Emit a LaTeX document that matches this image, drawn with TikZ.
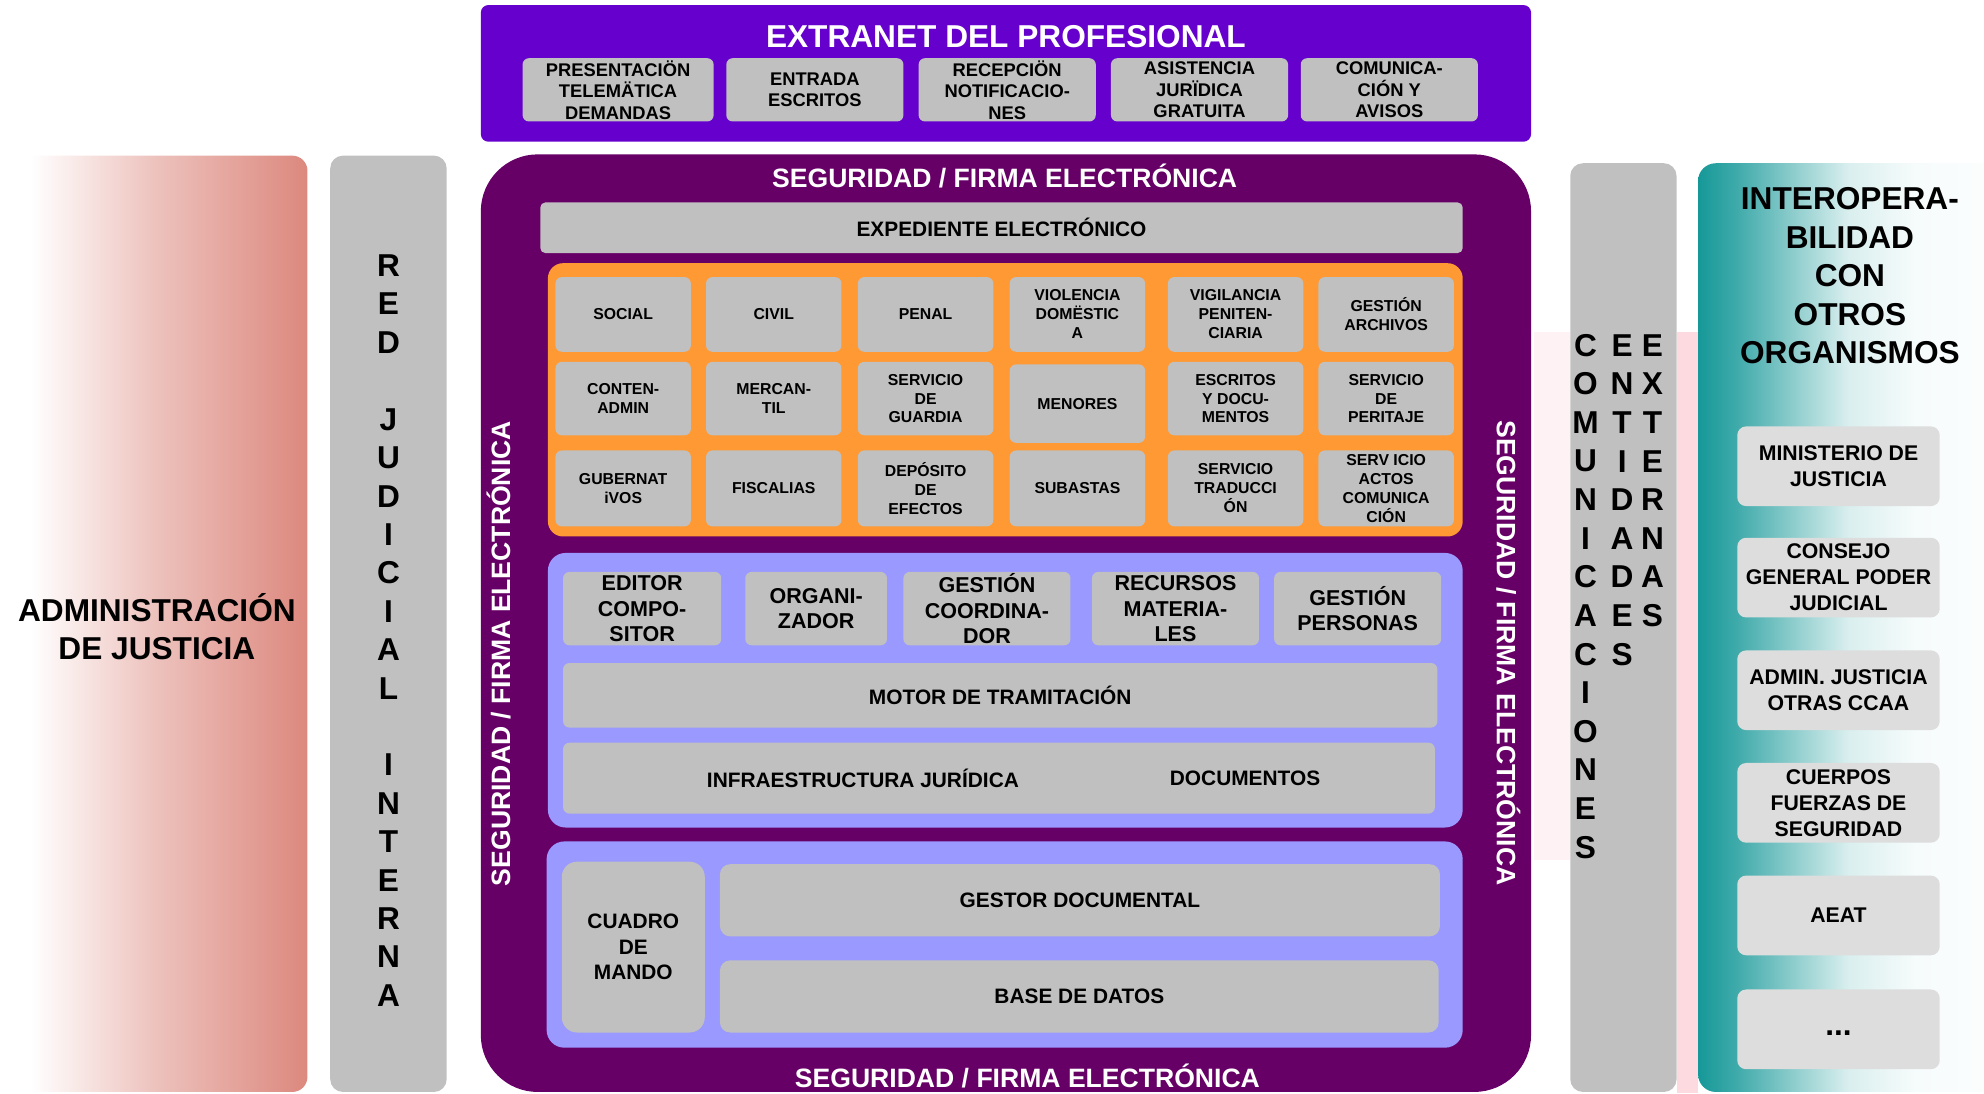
\documentclass[tikz,border=0pt]{standalone}
\usepackage{fontspec}
\setmainfont{Liberation Sans}

\definecolor{extranet}{HTML}{6600CC}
\definecolor{morado}{HTML}{660066}
\definecolor{gris}{HTML}{C0C0C0}
\definecolor{grisclaro}{HTML}{DDDDDD}
\definecolor{naranja}{HTML}{FF9933}
\definecolor{lila}{HTML}{9999FF}
\definecolor{salmon}{RGB}{220,136,126}
\definecolor{turquesa}{RGB}{22,152,152}
\definecolor{rosa}{RGB}{252,218,224}
\colorlet{salmonmed}{salmon!52!white}
\colorlet{turq1}{turquesa!82!white}
\colorlet{turq2}{turquesa!16!white}
\colorlet{turq3}{turquesa!4!white}

\pgfdeclarehorizontalshading{adminsombra}{100bp}{color(0bp)=(white); color(25bp)=(white);
  color(29bp)=(white); color(50bp)=(salmonmed); color(75bp)=(salmon); color(100bp)=(salmon)}
\pgfdeclarehorizontalshading{interopsombra}{100bp}{color(0bp)=(turquesa); color(25bp)=(turquesa);
  color(31bp)=(turq1); color(48bp)=(turq2); color(58bp)=(turq3); color(75bp)=(white); color(100bp)=(white)}

\tikzset{
  fondo/.style={inner sep=0pt, outer sep=0pt},
  caja/.style={fill=gris, rounded corners=5pt, inner sep=0pt, align=center,
    font=\bfseries\fontsize{12.5}{15}\selectfont},
  cajaext/.style={caja, font=\bfseries\fontsize{14.5}{17}\selectfont},
  cajamed/.style={caja, font=\bfseries\fontsize{16.5}{20}\selectfont},
  cajaorg/.style={caja, fill=grisclaro, rounded corners=7pt,
    font=\bfseries\fontsize{16.8}{20.5}\selectfont},
  titulo/.style={text=white, inner sep=0pt, font=\bfseries\fontsize{21}{25}\selectfont},
  letra/.style={inner sep=0pt, font=\bfseries\fontsize{25}{30}\selectfont}
}

\begin{document}
\begin{tikzpicture}[x=1pt, y=-1pt]
\path[use as bounding box, clip] (0,0) rectangle (1568,864);

% fondo rosado
\fill[rosa] (1325,262) rectangle (1342,864);
\fill[rosa!35] (1212,262) rectangle (1241,680);

% extranet
\node[fondo, fill=extranet, rounded corners=6pt, minimum width=830, minimum height=108] (extranet) at (795,58) {};
\node[titulo, font=\bfseries\fontsize{25}{30}\selectfont] (tituloext) at (795,29) {EXTRANET DEL PROFESIONAL};
\node[cajaext, minimum width=151, minimum height=50] (presentacion) at (488.5,71) {PRESENTACIÖN\\TELEMÄTICA\\DEMANDAS};
\node[cajaext, minimum width=140, minimum height=50] (entrada) at (644,71) {ENTRADA\\ESCRITOS};
\node[cajaext, minimum width=140, minimum height=50] (recepcion) at (796,71) {RECEPCIÖN\\NOTIFICACIO-\\NES};
\node[cajaext, minimum width=140, minimum height=50] (asistencia) at (948,71) {ASISTENCIA\\JURÏDICA\\GRATUITA};
\node[cajaext, minimum width=140, minimum height=50] (comunicacion) at (1098,71) {COMUNICA-\\CIÓN Y\\AVISOS};

% administracion de justicia
\node[fondo, shading=adminsombra, rounded corners=12pt,
  minimum width=238, minimum height=740] (admin) at (124,493) {};
\node[letra, align=center, font=\bfseries\fontsize{25}{30}\selectfont] (admintxt) at (124,495.5) {ADMINISTRACIÓN\\DE JUSTICIA};

% red judicial interna
\node[fondo, fill=gris, rounded corners=10pt, minimum width=92, minimum height=740] (red) at (307,493) {};
\foreach \l/\i in {R/0,E/1,D/2,J/4,U/5,D/6,I/7,C/8,I/9,A/10,L/11,I/13,N/14,T/15,E/16,R/17,N/18,A/19}
  \node[letra] (red\i) at (307,{210+\i*30.35}) {\l};

% seguridad / firma electronica
\node[fondo, fill=morado, rounded corners=45pt, minimum width=830, minimum height=741] (seguridad) at (795,492.5) {};
\node[titulo] (segarriba) at (794,139) {SEGURIDAD / FIRMA ELECTRÓNICA};
\node[titulo] (segabajo) at (812,850) {SEGURIDAD / FIRMA ELECTRÓNICA};
\node[titulo, rotate=90] (segizq) at (394,516.5) {SEGURIDAD / FIRMA ELECTRÓNICA};
\node[titulo, rotate=-90] (segder) at (1192,516) {SEGURIDAD / FIRMA ELECTRÓNICA};

\node[cajamed, rounded corners=4pt, minimum width=729, minimum height=40] (expediente) at (791.5,180) {EXPEDIENTE ELECTRÓNICO};

% ordenes jurisdiccionales
\node[fondo, fill=naranja, rounded corners=12pt, minimum width=723, minimum height=216] (ordenes) at (794.5,316) {};
\node[caja, minimum width=107, minimum height=59] (social) at (492.5,248.5) {SOCIAL};
\node[caja, minimum width=107, minimum height=59] (civil) at (611.5,248.5) {CIVIL};
\node[caja, minimum width=107, minimum height=59] (penal) at (731.5,248.5) {PENAL};
\node[caja, minimum width=107, minimum height=59] (violencia) at (851.5,248.5) {VIOLENCIA\\DOMËSTIC\\A};
\node[caja, minimum width=107, minimum height=59] (vigilancia) at (976.5,248.5) {VIGILANCIA\\PENITEN-\\CIARIA};
\node[caja, minimum width=107, minimum height=59] (archivos) at (1095.5,248.5) {GESTIÓN\\ARCHIVOS};
\node[caja, minimum width=107, minimum height=58] (contencioso) at (492.5,315) {CONTEN-\\ADMIN};
\node[caja, minimum width=107, minimum height=58] (mercantil) at (611.5,315) {MERCAN-\\TIL};
\node[caja, minimum width=107, minimum height=58] (guardia) at (731.5,315) {SERVICIO\\DE\\GUARDIA};
\node[caja, minimum width=107, minimum height=62] (menores) at (851.5,319) {MENORES};
\node[caja, minimum width=107, minimum height=58] (escritos) at (976.5,315) {ESCRITOS\\Y DOCU-\\MENTOS};
\node[caja, minimum width=107, minimum height=58] (peritaje) at (1095.5,315) {SERVICIO\\DE\\PERITAJE};
\node[caja, minimum width=107, minimum height=60] (gubernativos) at (492.5,386) {GUBERNAT\\iVOS};
\node[caja, minimum width=107, minimum height=60] (fiscalias) at (611.5,386) {FISCALIAS};
\node[caja, minimum width=107, minimum height=60] (deposito) at (731.5,386) {DEPÓSITO\\DE\\EFECTOS};
\node[caja, minimum width=107, minimum height=60] (subastas) at (851.5,386) {SUBASTAS};
\node[caja, minimum width=107, minimum height=60] (traduccion) at (976.5,386) {SERVICIO\\TRADUCCI\\ÓN};
\node[caja, minimum width=107, minimum height=60] (actos) at (1095.5,386) {SERV ICIO\\ACTOS\\COMUNICA\\CIÓN};

% tramitacion
\node[fondo, fill=lila, rounded corners=14pt, minimum width=723, minimum height=217] (tramitacion) at (794.5,545.5) {};
\node[cajamed, font=\bfseries\fontsize{17}{20}\selectfont, minimum width=125, minimum height=58] (editor) at (507.5,481) {EDITOR\\COMPO-\\SITOR};
\node[cajamed, font=\bfseries\fontsize{17}{20}\selectfont, minimum width=112, minimum height=58] (organizador) at (645,481) {ORGANI-\\ZADOR};
\node[cajamed, font=\bfseries\fontsize{17}{20}\selectfont, minimum width=132, minimum height=58] (coordinador) at (780,481) {GESTIÓN\\COORDINA-\\DOR};
\node[cajamed, font=\bfseries\fontsize{17}{20}\selectfont, minimum width=132, minimum height=58] (recursos) at (929,481) {RECURSOS\\MATERIA-\\LES};
\node[cajamed, font=\bfseries\fontsize{17}{20}\selectfont, minimum width=132, minimum height=58] (personas) at (1073,481) {GESTIÓN\\PERSONAS};
\node[cajamed, minimum width=691, minimum height=51] (motor) at (790.5,549.5) {MOTOR DE TRAMITACIÓN};
\node[cajamed, minimum width=689, minimum height=56] (infra) at (789.5,615) {};
\node[cajamed, fill=none] (infratxt) at (682,615) {INFRAESTRUCTURA JURÍDICA};
\node[cajamed, fill=none] (documentos) at (984,615) {DOCUMENTOS};

% gestion documental
\node[fondo, fill=lila, rounded corners=14pt, minimum width=724, minimum height=163] (almacen) at (794,746.5) {};
\node[cajamed, rounded corners=12pt, minimum width=113, minimum height=135] (cuadro) at (500.5,748.5) {CUADRO\\DE\\MANDO};
\node[cajamed, rounded corners=8pt, minimum width=569, minimum height=57] (gestor) at (853.5,711.5) {GESTOR DOCUMENTAL};
\node[cajamed, rounded corners=8pt, minimum width=568, minimum height=57] (datos) at (853,787.5) {BASE DE DATOS};

% comunicaciones entidades externas
\node[fondo, fill=gris, rounded corners=10pt, minimum width=84, minimum height=734] (externas) at (1283,496) {};
\foreach \l [count=\i from 0] in {C,O,M,U,N,I,C,A,C,I,O,N,E,S}
  \node[letra] (com\i) at (1253,{273+\i*30.5}) {\l};
\foreach \l [count=\i from 0] in {E,N,T,I,D,A,D,E,S}
  \node[letra] (ent\i) at (1282,{273+\i*30.5}) {\l};
\foreach \l [count=\i from 0] in {E,X,T,E,R,N,A,S}
  \node[letra] (ext\i) at (1306,{273+\i*30.5}) {\l};

% interoperabilidad
\node[fondo, shading=interopsombra, rounded corners=14pt,
  minimum width=258, minimum height=734] (interop) at (1471,496) {};
\node[letra, align=center, font=\bfseries\fontsize{25}{30.5}\selectfont] (interoptxt) at (1462,218) {INTEROPERA-\\BILIDAD\\CON\\OTROS\\ORGANISMOS};
\node[cajaorg, minimum width=160, minimum height=63] (ministerio) at (1453,368.5) {MINISTERIO DE\\JUSTICIA};
\node[cajaorg, minimum width=160, minimum height=63] (cgpj) at (1453,456.5) {CONSEJO\\GENERAL PODER\\JUDICIAL};
\node[cajaorg, minimum width=160, minimum height=63] (ccaa) at (1453,545.5) {ADMIN. JUSTICIA\\OTRAS CCAA};
\node[cajaorg, minimum width=160, minimum height=63] (cuerpos) at (1453,634.5) {CUERPOS\\FUERZAS DE\\SEGURIDAD};
\node[cajaorg, minimum width=160, minimum height=63] (aeat) at (1453,723.5) {AEAT};
\node[cajaorg, minimum width=160, minimum height=63, font=\bfseries\fontsize{25}{25}\selectfont] (otros) at (1453,813.5) {\strut...};
\end{tikzpicture}
\end{document}
